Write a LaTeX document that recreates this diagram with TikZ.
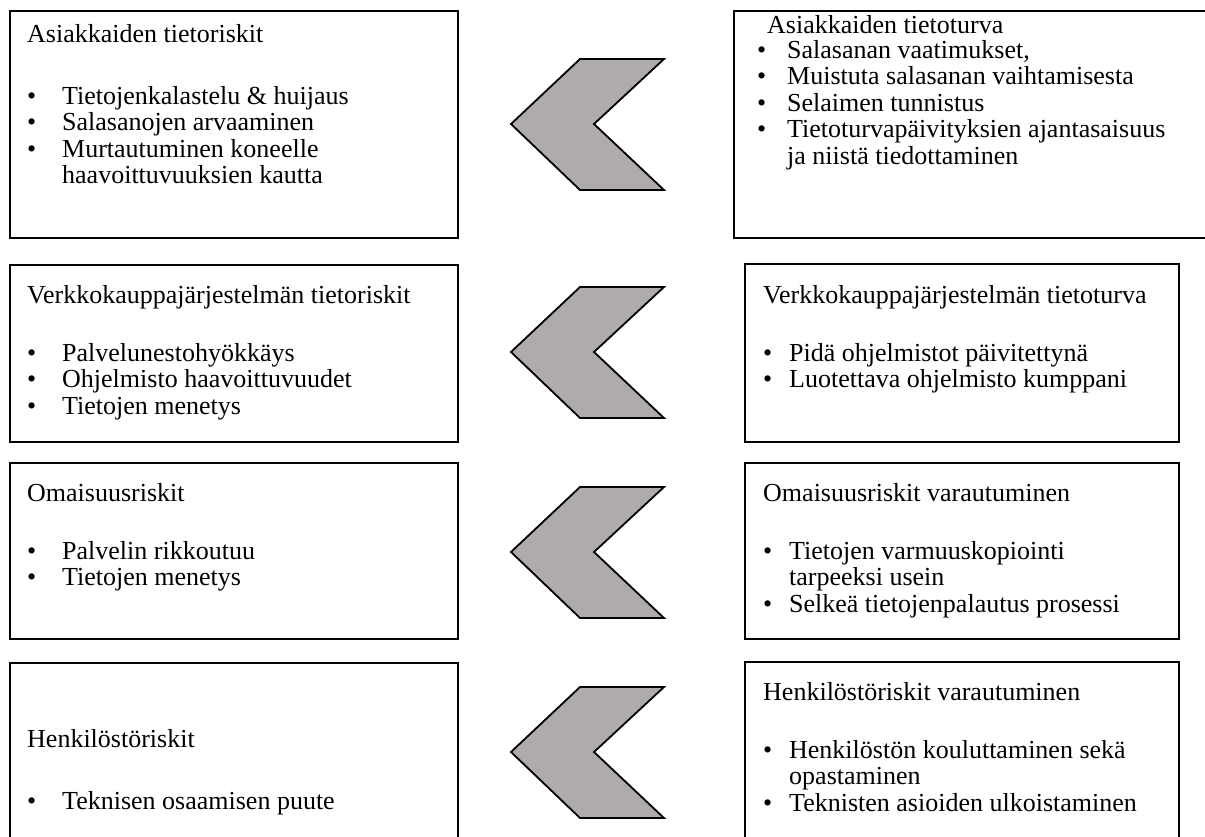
\documentclass[tikz,border=0pt]{standalone}
\usepackage{fontspec}
\setmainfont{Liberation Serif}
\definecolor{chevgray}{RGB}{175,171,171}
% bullet with hanging indent, and the matching indent for a continued line
\newcommand{\itm}[1][26pt]{\makebox[#1][l]{\textbullet}}
\newcommand{\cnt}[1][26pt]{\hspace*{#1}}

\begin{document}
\begin{tikzpicture}[x=1pt, y=-1pt,
    box/.style={draw=black, line width=1.6pt, inner sep=0pt, anchor=north west},
    txt/.style={anchor=north west, align=left, inner sep=0pt,
                font=\fontsize{26}{26.5}\selectfont},
    chev/.style={draw=black, line width=1.8pt, fill=chevgray, line join=miter},
]
    \useasboundingbox (0,0) rectangle (1205,836);

    % Left column: risks
    \node[box, minimum width=448pt, minimum height=227pt] (risk1) at (9,10) {};
    \node[box, minimum width=448pt, minimum height=177pt] (risk2) at (9,264) {};
    \node[box, minimum width=448pt, minimum height=176pt] (risk3) at (9,462) {};
    \node[box, minimum width=448pt, minimum height=190pt] (risk4) at (9,662) {};

    % Right column: protection
    \node[box, minimum width=476pt, minimum height=227pt] (prot1) at (733,10) {};
    \node[box, minimum width=434pt, minimum height=178pt] (prot2) at (744,263) {};
    \node[box, minimum width=434pt, minimum height=176pt] (prot3) at (744,462) {};
    \node[box, minimum width=434pt, minimum height=190pt] (prot4) at (744,661) {};

    % Chevrons between the columns
    \foreach \yc in {124,352,552,752}
      \draw[chev] (511,\yc) -- (580,\yc-65) -- (664,\yc-65) -- (594,\yc)
        -- (664,\yc+66) -- (580,\yc+66) -- cycle;

    % Texts of the left boxes
    \node[txt] (risk1txt) at (27,24) {Asiakkaiden tietoriskit\\[35.5pt]
      \itm[35pt]Tietojenkalastelu \& huijaus\\
      \itm[35pt]Salasanojen arvaaminen\\
      \itm[35pt]Murtautuminen koneelle\\
      \cnt[35pt]haavoittuvuuksien kautta};
    \node[txt] (risk2txt) at (27,285) {Verkkokauppajärjestelmän tietoriskit\\[31.5pt]
      \itm[35pt]Palvelunestohyökkäys\\
      \itm[35pt]Ohjelmisto haavoittuvuudet\\
      \itm[35pt]Tietojen menetys};
    \node[txt] (risk3txt) at (27,483) {Omaisuusriskit\\[31.5pt]
      \itm[35pt]Palvelin rikkoutuu\\
      \itm[35pt]Tietojen menetys};
    \node[txt] (risk4txt) at (27,729) {Henkilöstöriskit\\[35.5pt]
      \itm[35pt]Teknisen osaamisen puute};

    % Texts of the right boxes
    \node[txt] (prot1txt) at (757,15) {\hspace*{10pt}Asiakkaiden tietoturva\\[-1.5pt]
      \itm[30pt]Salasanan vaatimukset,\\
      \itm[30pt]Muistuta salasanan vaihtamisesta\\
      \itm[30pt]Selaimen tunnistus\\
      \itm[30pt]Tietoturvapäivityksien ajantasaisuus\\
      \cnt[30pt]ja niistä tiedottaminen};
    \node[txt] (prot2txt) at (763,285) {Verkkokauppajärjestelmän tietoturva\\[31.5pt]
      \itm Pidä ohjelmistot päivitettynä\\
      \itm Luotettava ohjelmisto kumppani};
    \node[txt] (prot3txt) at (763,483) {Omaisuusriskit varautuminen\\[31.5pt]
      \itm Tietojen varmuuskopiointi\\
      \cnt tarpeeksi usein\\
      \itm Selkeä tietojenpalautus prosessi};
    \node[txt] (prot4txt) at (763,682) {Henkilöstöriskit varautuminen\\[31.5pt]
      \itm Henkilöstön kouluttaminen sekä\\
      \cnt opastaminen\\
      \itm Teknisten asioiden ulkoistaminen};
\end{tikzpicture}
\end{document}
